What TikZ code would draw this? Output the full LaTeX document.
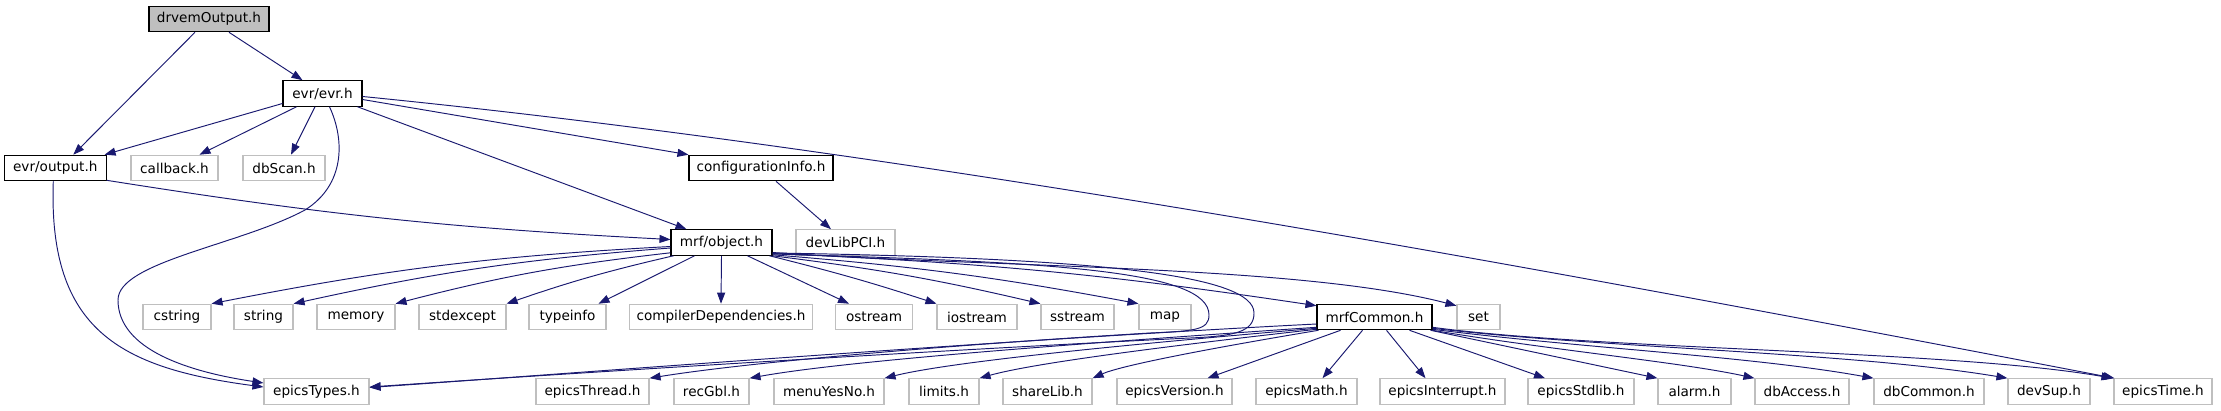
\documentclass[tikz,border=0pt]{standalone}
\usepackage{fontspec}
\setmainfont{DejaVu Sans}
\usetikzlibrary{arrows.meta,calc}
\definecolor{edgec}{HTML}{191970}
\definecolor{grayb}{HTML}{BFBFBF}
\begin{document}
\begin{tikzpicture}[x=1pt,y=-1pt,
  box/.style={draw=black,line width=1.1pt,fill=white,inner sep=0pt,minimum height=25.5pt,font=\fontsize{13.6}{16}\selectfont},
  ext/.style={box,draw=grayb},
  root/.style={box,fill=grayb},
  dep/.style={draw=edgec,line width=0.95pt,-{Triangle[length=11pt,width=8pt]}}]
\useasboundingbox[fill=white] (0,0) rectangle (2221,411);
% row 0
\node[root,minimum width=120pt] (drv) at (209,19) {drvemOutput.h};
% row 1
\node[box,minimum width=79pt] (evr) at (322.5,93.5) {evr/evr.h};
% row 2
\node[box,minimum width=101.5pt] (out) at (55.3,168) {evr/output.h};
\node[ext,minimum width=87pt] (cb) at (174.5,168) {callback.h};
\node[ext,minimum width=82pt] (dbs) at (284,168) {dbScan.h};
\node[box,minimum width=144pt] (cfg) at (761,168) {configurationInfo.h};
% row 3
\node[box,minimum width=101pt] (obj) at (721.5,242.5) {mrf/object.h};
\node[ext,minimum width=99pt] (pci) at (845.5,242.5) {devLibPCI.h};
% row 4
\node[ext,minimum width=68pt] (cs) at (177,317) {cstring};
\node[ext,minimum width=59pt] (str) at (263.5,317) {string};
\node[ext,minimum width=78pt] (mem) at (356,317) {memory};
\node[ext,minimum width=87pt] (stdx) at (462.5,317) {stdexcept};
\node[ext,minimum width=77pt] (tinfo) at (567.5,317) {typeinfo};
\node[ext,minimum width=182.5pt] (cdep) at (721,317) {compilerDependencies.h};
\node[ext,minimum width=76.5pt] (ost) at (874,317) {ostream};
\node[ext,minimum width=80pt] (ios) at (977,317) {iostream};
\node[ext,minimum width=73pt] (sst) at (1077.5,317) {sstream};
\node[ext,minimum width=52pt] (map) at (1165,317) {map};
\node[box,minimum width=115pt] (mrfc) at (1374.5,317) {mrfCommon.h};
\node[ext,minimum width=43pt] (set) at (1478.5,317) {set};
% row 5
\node[ext,minimum width=105pt] (etypes) at (316.5,391.5) {epicsTypes.h};
\node[ext,minimum width=113pt] (ethr) at (592.5,391.5) {epicsThread.h};
\node[ext,minimum width=75pt] (rgbl) at (711.5,391.5) {recGbl.h};
\node[ext,minimum width=110pt] (myn) at (829,391.5) {menuYesNo.h};
\node[ext,minimum width=70pt] (lim) at (944,391.5) {limits.h};
\node[ext,minimum width=89pt] (shl) at (1047.5,391.5) {shareLib.h};
\node[ext,minimum width=115pt] (ever) at (1174.5,391.5) {epicsVersion.h};
\node[ext,minimum width=101pt] (emath) at (1306.5,391.5) {epicsMath.h};
\node[ext,minimum width=125pt] (eint) at (1442.5,391.5) {epicsInterrupt.h};
\node[ext,minimum width=106pt] (estd) at (1581,391.5) {epicsStdlib.h};
\node[ext,minimum width=73pt] (alarm) at (1694.5,391.5) {alarm.h};
\node[ext,minimum width=94pt] (dba) at (1802,391.5) {dbAccess.h};
\node[ext,minimum width=110pt] (dbc) at (1929,391.5) {dbCommon.h};
\node[ext,minimum width=82pt] (dsup) at (2049,391.5) {devSup.h};
\node[ext,minimum width=98pt] (etime) at (2163,391.5) {epicsTime.h};
% edges from drvemOutput
\draw[dep] ($(drv.south)+(-14,0)$) -- ($(out.north)+(18,0)$);
\draw[dep] ($(drv.south)+(20,0)$) -- ($(evr.north)+(-20,0)$);
% edges from evr
\draw[dep] ($(evr.west)+(0,10)$) -- ($(out.north east)+(-2,0)$);
\draw[dep] ($(evr.south)+(-26,0)$) -- ($(cb.north)+(25,0)$);
\draw[dep] ($(evr.south)+(-7.5,0)$) -- ($(dbs.north)+(7,0)$);
\draw[dep] ($(evr.south)+(7,0)$) .. controls (345,140) and (345,185) .. (305,210) .. controls (240,245) and (118,262) .. (118,300) .. controls (118,350) and (190,372) .. ($(etypes.west)+(0,-8.5)$);
\draw[dep] ($(evr.south east)+(-5,0)$) -- ($(obj.north)+(-35,0)$);
\draw[dep] ($(evr.east)+(0,6)$) -- (cfg.north west);
\draw[dep] ($(evr.east)+(0,3)$) .. controls (900,150) and (1500,260) .. ($(etime.north west)+(1,0)$);
% edges from output
\draw[dep] ($(out.south)+(-2,0)$) .. controls (48,330) and (120,368) .. ($(etypes.west)+(0,-4.5)$);
\draw[dep] ($(out.south east)+(0,-1)$) to[bend right=3] ($(obj.west)+(0,-3)$);
% configurationInfo
\draw[dep] ($(cfg.south)+(15,0)$) -- ($(pci.north)+(-14.5,0)$);
% edges from mrf/object.h
\draw[dep] ($(obj.west)+(0,4)$) to[bend right=4] (cs.north east);
\draw[dep] ($(obj.west)+(0,5.5)$) to[bend right=4] (str.north east);
\draw[dep] ($(obj.south west)+(0,-3)$) to[bend right=4] (mem.north east);
\draw[dep] ($(obj.south west)+(3,0)$) to[bend right=3] (stdx.north east);
\draw[dep] ($(obj.south)+(-27,0)$) -- ($(tinfo.north)+(31,0)$);
\draw[dep] (obj.south) -- (cdep.north);
\draw[dep] ($(obj.south)+(26,0)$) -- ($(ost.north)+(-25,0)$);
\draw[dep] ($(obj.south east)+(-3,0)$) to[bend left=2] (ios.north west);
\draw[dep] (obj.south east) to[bend left=3] (sst.north west);
\draw[dep] ($(obj.south east)+(0,-1)$) to[bend left=3] (map.north west);
\draw[dep] ($(obj.east)+(0,11)$) to[bend left=3] ($(mrfc.north west)+(0,2)$);
\draw[dep] ($(obj.east)+(0,10)$) .. controls (1000,268) and (1300,265) .. ($(set.north west)+(0,2)$);
\draw[dep] ($(obj.east)+(0,11.5)$) .. controls (1050,262) and (1209,270) .. (1209,315) .. controls (1209,330) and (1195,331) .. (1150,333) .. controls (950,345) and (750,362) .. (ethr.north east);
\draw[dep] ($(obj.east)+(0,10.5)$) .. controls (1100,258) and (1254,275) .. (1254,313) .. controls (1254,332) and (1235,336) .. (1190,338) .. controls (900,352) and (500,378) .. ($(etypes.east)+(0,-4.5)$);
% edges from mrfCommon.h
\draw[dep] ($(mrfc.west)+(0,7)$) .. controls (1000,340) and (550,375) .. ($(etypes.east)+(0,-4)$);
\draw[dep] ($(mrfc.south west)+(0,-3)$) .. controls (1100,342) and (850,360) .. (rgbl.north east);
\draw[dep] ($(mrfc.south west)+(0,-2)$) .. controls (1120,345) and (950,362) .. (myn.north east);
\draw[dep] ($(mrfc.south west)+(0,-1)$) .. controls (1150,348) and (1030,364) .. (lim.north east);
\draw[dep] ($(mrfc.south west)+(2,0)$) .. controls (1200,350) and (1120,366) .. (shl.north east);
\draw[dep] ($(mrfc.south)+(-34,0)$) -- ($(ever.north)+(33,0)$);
\draw[dep] ($(mrfc.south)+(-12,0)$) -- ($(emath.north)+(16,0)$);
\draw[dep] ($(mrfc.south)+(12,0)$) -- ($(eint.north)+(-17,0)$);
\draw[dep] ($(mrfc.south)+(35,0)$) -- ($(estd.north)+(-36,0)$);
\draw[dep] ($(mrfc.south east)+(-2,0)$) -- (alarm.north west);
\draw[dep] (mrfc.south east) .. controls (1550,350) and (1680,362) .. (dba.north west);
\draw[dep] ($(mrfc.south east)+(0,-1)$) .. controls (1580,348) and (1750,356) .. (dbc.north west);
\draw[dep] ($(mrfc.south east)+(0,-2)$) .. controls (1600,348) and (1850,352) .. (dsup.north west);
\draw[dep] ($(mrfc.south east)+(0,-3)$) .. controls (1600,350) and (1950,350) .. ($(etime.north west)+(-1,0)$);
\end{tikzpicture}
\end{document}
